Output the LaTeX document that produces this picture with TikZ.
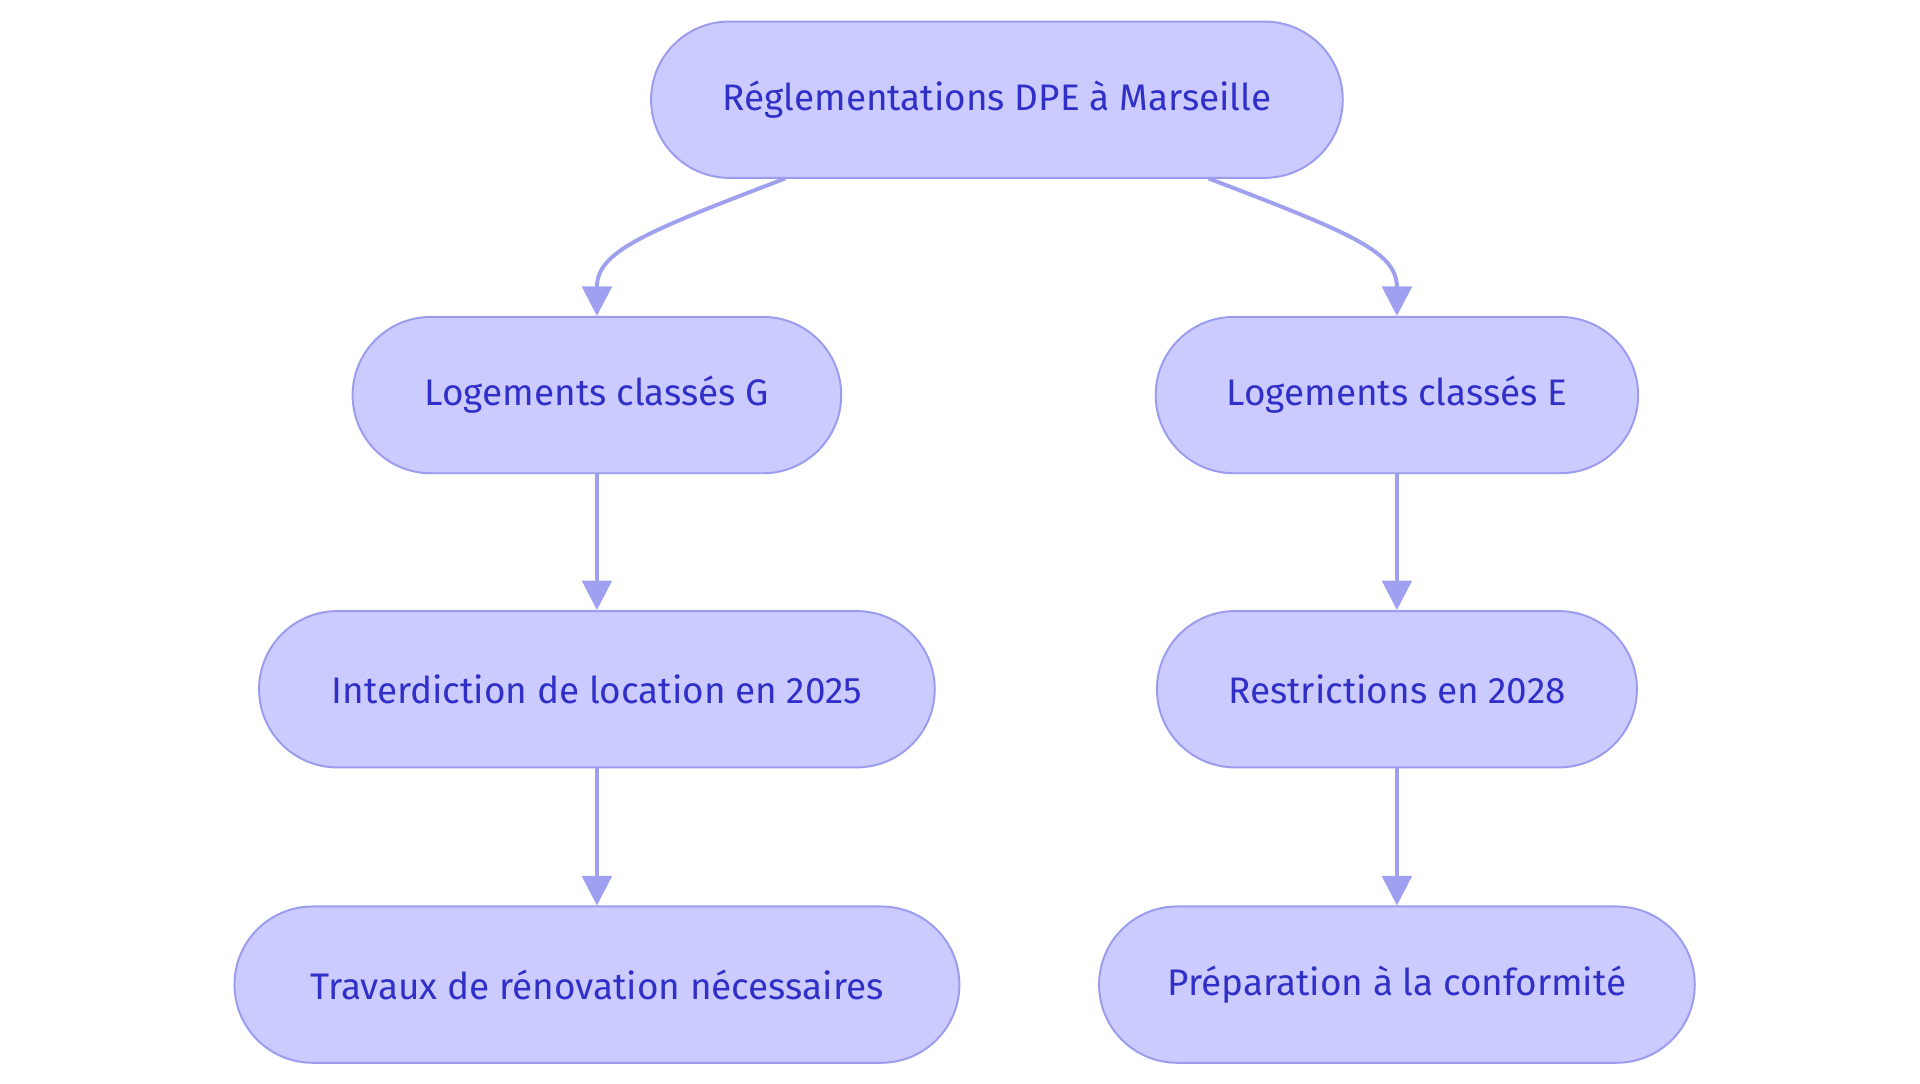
\documentclass[tikz,border=0pt]{standalone}
\usepackage{fontspec}
\setmainfont{Fira Sans}
\usetikzlibrary{arrows.meta}
\definecolor{boxfill}{HTML}{CBCBFF}
\definecolor{boxline}{HTML}{9C9CEE}
\definecolor{boxtext}{HTML}{3030C8}
\definecolor{arrowcol}{HTML}{9FA0F0}
\tikzset{
  pill/.style={draw=boxline, fill=boxfill, line width=0.8pt, text=boxtext,
    rounded corners=31.75pt, minimum height=63.5pt, inner sep=0pt,
    font=\fontsize{15}{18}\selectfont},
  link/.style={draw=arrowcol, line width=1.6pt, -{Triangle[length=12pt,width=12pt]}}
}
\begin{document}
\begin{tikzpicture}[x=0.5pt,y=-0.5pt]
  \useasboundingbox (0,0) rectangle (1560,880);

  % niveau 1
  \node[pill, minimum width=281pt] (top) at (810,81) {Réglementations DPE à Marseille};

  % niveau 2
  \node[pill, minimum width=198.5pt] (lg) at (485,321) {Logements classés G};
  \node[pill, minimum width=196pt] (le) at (1135,321) {Logements classés E};

  % niveau 3
  \node[pill, minimum width=274.5pt] (ban) at (485,560) {Interdiction de location en 2025};
  \node[pill, minimum width=195pt] (res) at (1135,560) {Restrictions en 2028};

  % niveau 4
  \node[pill, minimum width=294.5pt] (work) at (485,800) {Travaux de rénovation nécessaires};
  \node[pill, minimum width=242pt] (prep) at (1135,800) {Préparation à la conformité};

  % liens
  \coordinate (tl) at (638,145);
  \coordinate (tr) at (982,145);
  \draw[link] (tl) .. controls (520,190) and (485,205) .. (lg.north);
  \draw[link] (tr) .. controls (1100,190) and (1135,205) .. (le.north);
  \draw[link] (lg) -- (ban);
  \draw[link] (ban) -- (work);
  \draw[link] (le) -- (res);
  \draw[link] (res) -- (prep);
\end{tikzpicture}
\end{document}
